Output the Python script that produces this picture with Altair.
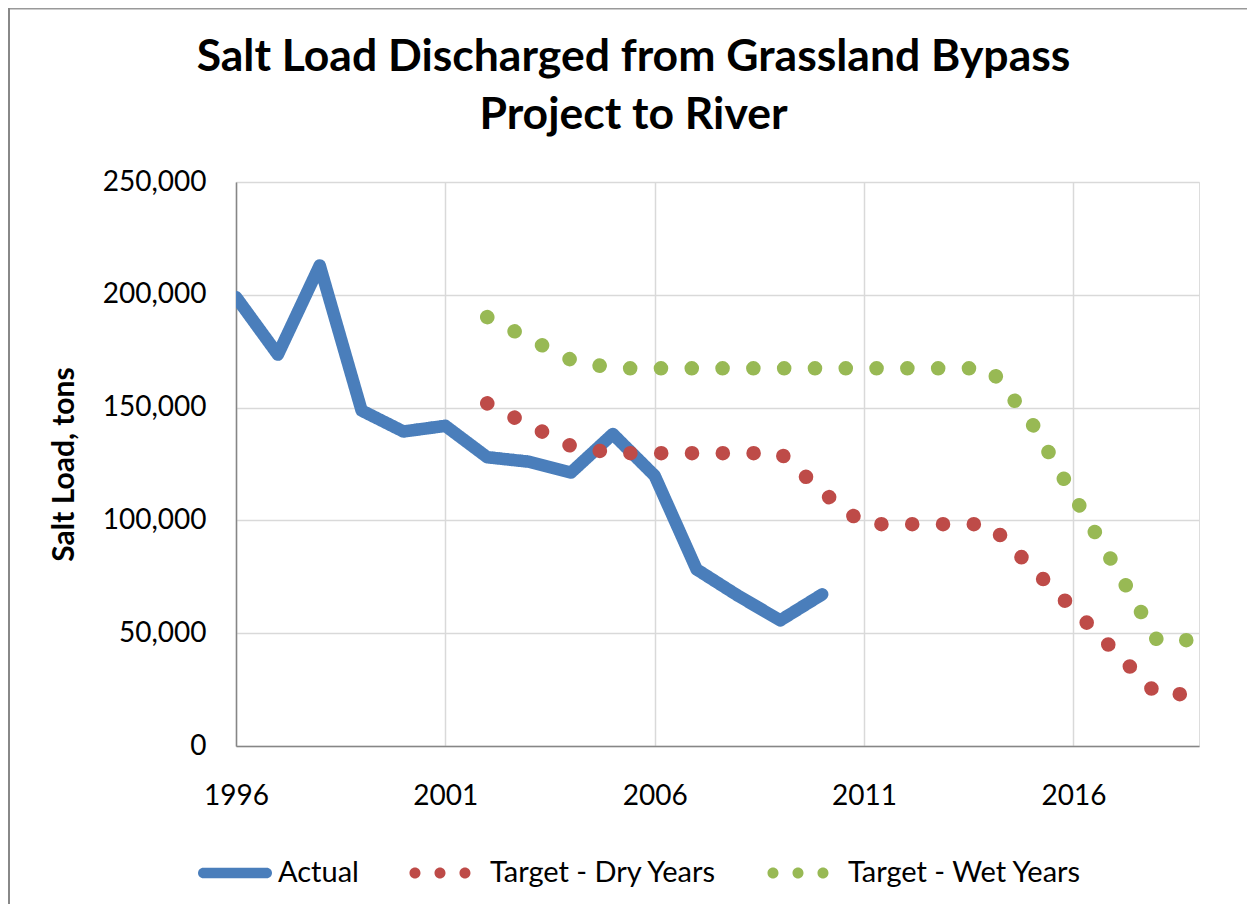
import altair as alt
import pandas as pd

# ---- data ----
actual_years = list(range(1996, 2011))
actual_tons = [199000, 173500, 213000, 148700, 139400, 141900, 128000, 126000,
               121200, 138300, 119800, 78300, 66500, 55700, 67200]

target_years = list(range(2002, 2020))
dry_tons = [151900, 142200, 133000, 129800, 129800, 129800, 129800, 129800,
            112700, 98300, 98300, 98300, 98300, 79100, 60700, 41800, 22900, 23000]
wet_tons = [190100, 180500, 171200, 167400, 167400, 167400, 167400, 167400,
            167400, 167400, 167400, 167400, 167400, 143400, 111100, 79400, 46900, 46900]

series_names = ["Actual", "Target - Dry Years", "Target - Wet Years"]
series_colors = ["#4A7EBB", "#BE4B48", "#98B954"]
x_tick_years = [1996, 2001, 2006, 2011, 2016]
y_ticks = [0, 50000, 100000, 150000, 200000, 250000]

rows = []
for yr, v in zip(actual_years, actual_tons):
    rows.append({"year": yr, "tons": v, "series": series_names[0]})
for yr, v in zip(target_years, dry_tons):
    rows.append({"year": yr, "tons": v, "series": series_names[1]})
for yr, v in zip(target_years, wet_tons):
    rows.append({"year": yr, "tons": v, "series": series_names[2]})
df = pd.DataFrame(rows)

FONT = "Lato"
W, H = 963, 564
PAD = {"left": 228, "top": 174, "right": 48, "bottom": 158}

# line styles per series: solid thick line, and round-dot lines
series_dash = [[1, 0], [0.1, 30.7], [0.1, 30.7]]
series_width = [12.5, 14.5, 14.5]

# legend symbols (unit-square SVG paths): a thick rounded bar, and three round dots
def _circle(cx, r):
    return (f"M{cx - r:.3f},0 A{r:.3f},{r:.3f} 0 1 0 {cx + r:.3f},0 "
            f"A{r:.3f},{r:.3f} 0 1 0 {cx - r:.3f},0 Z")

bar_h = 0.142
bar_path = (f"M{-1 + bar_h:.3f},{-bar_h:.3f} L{1 - bar_h:.3f},{-bar_h:.3f} "
            f"A{bar_h},{bar_h} 0 0 1 {1 - bar_h:.3f},{bar_h:.3f} "
            f"L{-1 + bar_h:.3f},{bar_h:.3f} A{bar_h},{bar_h} 0 0 1 {-1 + bar_h:.3f},{-bar_h:.3f} Z")
dot_r = 0.149
dots_path = " ".join(_circle(c, dot_r) for c in (-0.865, -0.189, 0.486))

SYMBOL_SIZE = 74 * 74

legend = alt.Legend(
    title=None, orient="none", direction="horizontal",
    legendX=-38, legendY=654,
    symbolSize=SYMBOL_SIZE, symbolStrokeWidth=0,
    labelFont=FONT, labelFontSize=29, labelColor="#000000",
    labelLimit=500, labelOffset=6, columnPadding=50, padding=0,
)

common_axis = dict(ticks=False, tickSize=0, labelFlush=False, labelOverlap=False,
                   domainColor="#868686", domainWidth=1.5,
                   gridColor="#D9D9D9", gridWidth=1.5,
                   labelFont=FONT, labelFontSize=28, labelColor="#000000")

x_enc = alt.X("year:Q",
              scale=alt.Scale(domain=[1996, 2019], nice=False, zero=False),
              axis=alt.Axis(values=x_tick_years, format="d", title=None,
                            labelPadding=36, **common_axis))
y_enc = alt.Y("tons:Q",
              scale=alt.Scale(domain=[0, 250000], nice=False),
              axis=alt.Axis(values=y_ticks, format=",d", title="Salt Load, tons",
                            titleFont=FONT, titleFontSize=30, titleFontWeight="bold",
                            titleColor="#000000", titlePadding=23,
                            labelPadding=30, **common_axis))

layers = []

# chart-area frame (top and left edges, as in the original)
frame_df = pd.DataFrame({"frame": [0]})
layers.append(alt.Chart(frame_df).mark_rule(color="#999999", strokeWidth=1.5).encode(
    x=alt.value(-PAD["left"]), x2=alt.value(W + PAD["right"]), y=alt.value(-PAD["top"] + 0.75)))
layers.append(alt.Chart(frame_df).mark_rule(color="#888888", strokeWidth=2).encode(
    x=alt.value(-PAD["left"] + 1), y=alt.value(-PAD["top"]), y2=alt.value(H + PAD["bottom"])))

for name, col, dash, w in zip(series_names, series_colors, series_dash, series_width):
    layers.append(
        alt.Chart(df).transform_filter(alt.datum.series == name).mark_line(
            color=col, strokeDash=dash, strokeWidth=w,
            strokeCap="round", strokeJoin="round", clip=True
        ).encode(x=x_enc, y=y_enc)
    )

# legend-only layer: no rows are drawn, the legend is built from the scale domain
legend_layer = alt.Chart(df).transform_filter("false").mark_point(
    filled=True, size=SYMBOL_SIZE, strokeWidth=0, opacity=1
).encode(
    color=alt.Color("series:N", scale=alt.Scale(domain=series_names, range=series_colors),
                    legend=legend),
    shape=alt.Shape("series:N",
                    scale=alt.Scale(domain=series_names,
                                    range=[bar_path, dots_path, dots_path]),
                    legend=legend),
)
layers.append(legend_layer)

chart = alt.layer(*layers).properties(
    width=W, height=H,
    title=alt.Title(["Salt Load Discharged from Grassland Bypass", "Project to River"],
                    font=FONT, fontSize=44.5, fontWeight="bold", color="#000000",
                    anchor="middle", frame="group", dx=-84, offset=-131,
                    lineHeight=58),
    autosize=alt.AutoSizeParams(type="none"),
    padding=PAD,
).configure_view(stroke=None).configure(background="#ffffff")

chart.save("out.html", embed_options={"renderer": "svg", "actions": False})
